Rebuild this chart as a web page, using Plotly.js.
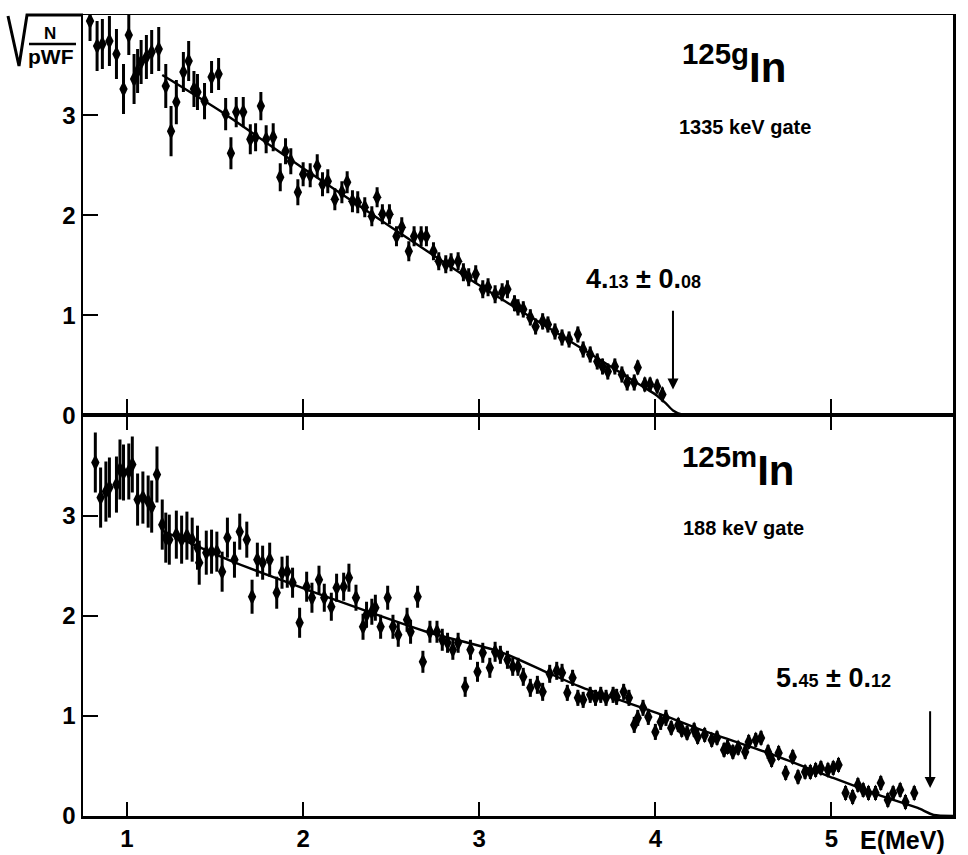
<!DOCTYPE html>
<html>
<head>
<meta charset="utf-8">
<script src="https://cdn.plot.ly/plotly-3.0.1.min.js"></script>
<style>html,body{margin:0;padding:0;background:#fff;}#chart{width:968px;height:855px;}</style>
</head>
<body>
<div id="chart"></div>
<script>
// ---- 125g In, 1335 keV gate (top panel) ----
const gE = [0.79,0.83,0.86,0.90,0.94,0.98,1.01,1.04,1.06,1.08,1.11,1.14,1.18,1.22,1.25,1.28,1.32,1.35,1.38,1.40,1.44,1.48,1.52,1.56,1.59,1.62,1.66,1.70,1.73,1.76,1.79,1.83,1.87,1.90,1.93,1.97,2.00,2.04,2.08,2.11,2.14,2.18,2.22,2.25,2.28,2.31,2.35,2.39,2.42,2.45,2.49,2.53,2.56,2.60,2.63,2.67,2.70,2.74,2.77,2.81,2.84,2.88,2.91,2.94,2.98,3.02,3.05,3.09,3.13,3.16,3.20,3.22,3.25,3.29,3.32,3.36,3.39,3.43,3.47,3.51,3.56,3.59,3.63,3.67,3.70,3.73,3.77,3.81,3.84,3.88,3.90,3.94,3.97,4.01,4.04];
const gK = [3.94,3.69,3.71,3.74,3.61,3.26,3.80,3.36,3.44,3.53,3.58,3.63,3.66,3.29,2.84,3.13,3.43,3.54,3.26,3.23,3.14,3.38,3.41,3.01,2.62,3.03,3.03,2.76,2.78,3.09,2.76,2.78,2.38,2.64,2.54,2.23,2.41,2.40,2.49,2.31,2.34,2.16,2.23,2.33,2.14,2.13,2.08,1.99,2.18,2.01,2.01,1.79,1.88,1.64,1.79,1.79,1.79,1.64,1.54,1.51,1.53,1.54,1.43,1.38,1.41,1.26,1.28,1.21,1.23,1.26,1.12,1.08,1.06,0.98,0.89,0.94,0.91,0.84,0.78,0.76,0.81,0.66,0.61,0.54,0.49,0.44,0.49,0.41,0.33,0.33,0.48,0.31,0.31,0.29,0.21];
const gErr = [0.20,0.25,0.25,0.25,0.25,0.25,0.20,0.25,0.22,0.22,0.22,0.22,0.22,0.22,0.25,0.22,0.20,0.20,0.18,0.18,0.18,0.16,0.16,0.16,0.16,0.15,0.15,0.15,0.14,0.14,0.14,0.14,0.14,0.13,0.13,0.13,0.12,0.12,0.12,0.12,0.12,0.11,0.11,0.11,0.11,0.11,0.10,0.10,0.10,0.10,0.10,0.10,0.10,0.10,0.10,0.10,0.10,0.09,0.09,0.09,0.09,0.09,0.09,0.09,0.09,0.09,0.09,0.09,0.09,0.09,0.08,0.08,0.08,0.08,0.08,0.08,0.08,0.08,0.08,0.08,0.08,0.08,0.08,0.08,0.08,0.08,0.08,0.08,0.08,0.08,0.07,0.07,0.07,0.07,0.07];
const gFitE = [1.20,1.53,2.00,2.50,3.00,3.50,3.90,4.00,4.06,4.10,4.15,4.30];
const gFitK = [3.40,3.04,2.47,1.88,1.30,0.76,0.32,0.21,0.12,0.05,0.01,0.00];

// ---- 125m In, 188 keV gate (bottom panel) ----
const mE = [0.82,0.85,0.88,0.90,0.94,0.96,0.98,1.01,1.03,1.06,1.09,1.12,1.14,1.17,1.20,1.22,1.24,1.28,1.31,1.34,1.37,1.40,1.41,1.45,1.48,1.51,1.54,1.57,1.61,1.64,1.68,1.71,1.74,1.77,1.81,1.85,1.88,1.91,1.94,1.98,2.02,2.05,2.09,2.12,2.16,2.19,2.23,2.26,2.30,2.34,2.36,2.39,2.41,2.44,2.48,2.51,2.54,2.59,2.61,2.65,2.68,2.72,2.76,2.79,2.82,2.85,2.88,2.92,2.95,2.99,3.02,3.06,3.09,3.12,3.16,3.19,3.22,3.25,3.29,3.33,3.36,3.40,3.44,3.47,3.50,3.53,3.56,3.59,3.63,3.66,3.69,3.72,3.76,3.78,3.82,3.85,3.88,3.90,3.93,3.96,4.00,4.03,4.06,4.09,4.13,4.15,4.18,4.22,4.24,4.28,4.32,4.35,4.39,4.41,4.44,4.47,4.51,4.53,4.57,4.60,4.64,4.66,4.70,4.74,4.78,4.81,4.85,4.88,4.91,4.94,4.98,5.01,5.04,5.08,5.12,5.15,5.18,5.21,5.25,5.28,5.32,5.35,5.39,5.42,5.47];
const mK = [3.53,3.18,3.24,3.28,3.31,3.46,3.43,3.44,3.51,3.16,3.18,3.14,3.09,3.41,2.91,2.78,2.76,2.81,2.76,2.80,2.76,2.68,2.53,2.63,2.64,2.64,2.44,2.78,2.56,2.84,2.76,2.19,2.56,2.53,2.56,2.23,2.43,2.44,2.33,1.93,2.29,2.18,2.36,2.18,2.09,2.28,2.29,2.38,2.18,1.89,2.01,2.04,2.08,1.89,2.18,1.89,1.81,1.96,1.84,2.19,1.54,1.84,1.84,1.76,1.73,1.66,1.73,1.29,1.66,1.44,1.63,1.48,1.64,1.61,1.56,1.49,1.49,1.39,1.28,1.31,1.24,1.42,1.45,1.43,1.23,1.38,1.18,1.16,1.21,1.18,1.21,1.18,1.21,1.19,1.24,1.18,0.91,0.98,1.08,0.99,0.84,0.94,0.98,0.88,0.91,0.86,0.83,0.86,0.79,0.81,0.76,0.78,0.66,0.69,0.64,0.68,0.64,0.74,0.76,0.78,0.64,0.56,0.63,0.43,0.59,0.39,0.44,0.44,0.46,0.48,0.46,0.48,0.51,0.23,0.19,0.31,0.26,0.23,0.23,0.33,0.16,0.23,0.26,0.14,0.23];
const mErr = [0.30,0.30,0.30,0.30,0.28,0.30,0.28,0.28,0.28,0.26,0.26,0.26,0.26,0.28,0.25,0.25,0.25,0.24,0.24,0.24,0.22,0.22,0.22,0.22,0.22,0.20,0.20,0.20,0.18,0.18,0.18,0.17,0.17,0.17,0.17,0.16,0.16,0.16,0.15,0.15,0.15,0.15,0.14,0.14,0.14,0.14,0.14,0.14,0.13,0.13,0.13,0.13,0.13,0.12,0.12,0.12,0.12,0.12,0.12,0.11,0.11,0.11,0.11,0.11,0.10,0.10,0.10,0.10,0.10,0.10,0.10,0.10,0.10,0.09,0.09,0.09,0.09,0.09,0.09,0.09,0.09,0.09,0.09,0.09,0.08,0.08,0.08,0.08,0.08,0.08,0.08,0.08,0.08,0.08,0.08,0.08,0.08,0.08,0.08,0.08,0.08,0.08,0.08,0.07,0.07,0.07,0.07,0.07,0.07,0.07,0.07,0.07,0.07,0.07,0.07,0.07,0.07,0.07,0.07,0.07,0.07,0.07,0.07,0.07,0.07,0.07,0.07,0.07,0.07,0.07,0.07,0.07,0.07,0.07,0.07,0.07,0.07,0.07,0.07,0.07,0.07,0.07,0.07,0.07,0.07];
const mFitE = [1.20,1.60,1.87,2.21,2.70,3.12,3.39,3.59,3.86,4.07,4.26,4.64,5.01,5.30,5.49,5.58,5.69];
const mFitK = [2.85,2.54,2.36,2.14,1.84,1.64,1.43,1.28,1.12,0.99,0.86,0.63,0.38,0.19,0.08,0.01,0.00];

const xTicks = [1,2,3,4,5];
const xTickText = ['1','2','3','4','5'];
const yTicks = [0,1,2,3];
const yTickText = ['0','1','2','3'];

// layout geometry (pixels) and helpers for paper coordinates
const W = 968, H = 855, ML = 83, MR = 15, MT = 15, MB = 39;
const PW = W - ML - MR, PH = H - MT - MB;
const px = v => (v - ML) / PW;
const py = v => (H - MB - v) / PH;

const FONT = 'Liberation Sans, Arial, Helvetica, sans-serif';
const tickFont = {family: FONT, size: 24, color: '#000', weight: 'bold'};

const markerStyle = {symbol: 'diamond-tall', size: 12, color: '#000'};
function errStyle(arr) {
  return {type: 'data', array: arr, visible: true, color: '#000', thickness: 3, width: 0};
}

const traces = [
  {x: gE, y: gK, type: 'scatter', mode: 'markers', xaxis: 'x2', yaxis: 'y2',
   marker: markerStyle, error_y: errStyle(gErr), name: '125g In', cliponaxis: true},
  {x: gFitE, y: gFitK, type: 'scatter', mode: 'lines', xaxis: 'x2', yaxis: 'y2',
   line: {color: '#000', width: 2.4, shape: 'spline', smoothing: 0.6}, name: 'fit g'},
  {x: mE, y: mK, type: 'scatter', mode: 'markers', xaxis: 'x', yaxis: 'y',
   marker: markerStyle, error_y: errStyle(mErr), name: '125m In', cliponaxis: true},
  {x: mFitE, y: mFitK, type: 'scatter', mode: 'lines', xaxis: 'x', yaxis: 'y',
   line: {color: '#000', width: 2.4, shape: 'spline', smoothing: 0.6}, name: 'fit m'}
];

const axisCommon = {showline: true, linecolor: '#000', linewidth: 2.5, showgrid: false, zeroline: false,
  ticks: 'inside', tickcolor: '#000', tickwidth: 2};

const layout = {
  width: W, height: H,
  margin: {l: ML, r: MR, t: MT, b: MB, pad: 0},
  paper_bgcolor: '#fff', plot_bgcolor: '#fff',
  showlegend: false,
  xaxis: Object.assign({}, axisCommon, {domain: [0, 1], anchor: 'y', range: [0.75, 5.69],
    tickvals: xTicks, ticktext: xTickText, ticklen: 14, mirror: 'ticks', tickfont: tickFont}),
  xaxis2: Object.assign({}, axisCommon, {domain: [0, 1], anchor: 'y2', range: [0.75, 5.69], matches: 'x',
    tickvals: xTicks, ticklen: 17, mirror: true, showticklabels: false, linewidth: 1.5}),
  yaxis: Object.assign({}, axisCommon, {domain: [0, 0.5], anchor: 'x', range: [0, 4.0],
    tickvals: yTicks, ticktext: yTickText, ticklen: 15, mirror: true, tickfont: tickFont}),
  yaxis2: Object.assign({}, axisCommon, {domain: [0.5, 1], anchor: 'x2', range: [0, 4.0],
    tickvals: yTicks, ticktext: yTickText, ticklen: 15, mirror: true, tickfont: tickFont}),
  annotations: [
    {xref: 'paper', yref: 'paper', x: px(680), y: py(64), xanchor: 'left', yanchor: 'middle', showarrow: false,
     text: '<sup>125g</sup>In', font: {family: FONT, size: 42, color: '#000', weight: 'bold'}},
    {xref: 'paper', yref: 'paper', x: px(677), y: py(127), xanchor: 'left', yanchor: 'middle', showarrow: false,
     text: '1335 keV gate', font: {family: FONT, size: 20, color: '#000', weight: 'bold'}},
    {xref: 'paper', yref: 'paper', x: px(584), y: py(279), xanchor: 'left', yanchor: 'middle', showarrow: false,
     text: '4.<span style="font-size:18px">13</span> ± 0.<span style="font-size:18px">08</span>',
     font: {family: FONT, size: 27, color: '#000', weight: 'bold'}},
    {xref: 'x2', yref: 'y2', x: 4.10, y: 0.26, axref: 'x2', ayref: 'y2', ax: 4.10, ay: 1.06,
     showarrow: true, arrowhead: 2, arrowsize: 1.1, arrowwidth: 2, arrowcolor: '#000', text: ''},
    {xref: 'paper', yref: 'paper', x: px(680), y: py(467), xanchor: 'left', yanchor: 'middle', showarrow: false,
     text: '<sup>125m</sup>In', font: {family: FONT, size: 42, color: '#000', weight: 'bold'}},
    {xref: 'paper', yref: 'paper', x: px(681), y: py(528), xanchor: 'left', yanchor: 'middle', showarrow: false,
     text: '188 keV gate', font: {family: FONT, size: 20, color: '#000', weight: 'bold'}},
    {xref: 'paper', yref: 'paper', x: px(774), y: py(678), xanchor: 'left', yanchor: 'middle', showarrow: false,
     text: '5.<span style="font-size:18px">45</span> ± 0.<span style="font-size:18px">12</span>',
     font: {family: FONT, size: 27, color: '#000', weight: 'bold'}},
    {xref: 'x', yref: 'y', x: 5.56, y: 0.28, axref: 'x', ayref: 'y', ax: 5.56, ay: 1.06,
     showarrow: true, arrowhead: 2, arrowsize: 1.1, arrowwidth: 2, arrowcolor: '#000', text: ''},
    {xref: 'paper', yref: 'paper', x: px(858), y: py(840), xanchor: 'left', yanchor: 'middle', showarrow: false,
     text: 'E(MeV)', font: {family: FONT, size: 25, color: '#000', weight: 'bold'}},
    {xref: 'paper', yref: 'paper', x: px(50), y: py(33), xanchor: 'center', yanchor: 'middle', showarrow: false,
     text: 'N', font: {family: FONT, size: 17, color: '#000', weight: 'bold'}},
    {xref: 'paper', yref: 'paper', x: px(51), y: py(56), xanchor: 'center', yanchor: 'middle', showarrow: false,
     text: 'pWF', font: {family: FONT, size: 21, color: '#000', weight: 'bold'}}
  ],
  shapes: [
    {type: 'path', xref: 'paper', yref: 'paper',
     path: 'M ' + px(8) + ' ' + py(16) + ' L ' + px(19) + ' ' + py(66) + ' L ' + px(27) + ' ' + py(15) + ' L ' + px(83) + ' ' + py(15),
     line: {color: '#000', width: 3}},
    {type: 'line', xref: 'paper', yref: 'paper', x0: px(29), x1: px(76), y0: py(44), y1: py(44),
     line: {color: '#000', width: 2.5}}
  ]
};

Plotly.newPlot('chart', traces, layout, {staticPlot: true, displayModeBar: false});
</script>
</body>
</html>
